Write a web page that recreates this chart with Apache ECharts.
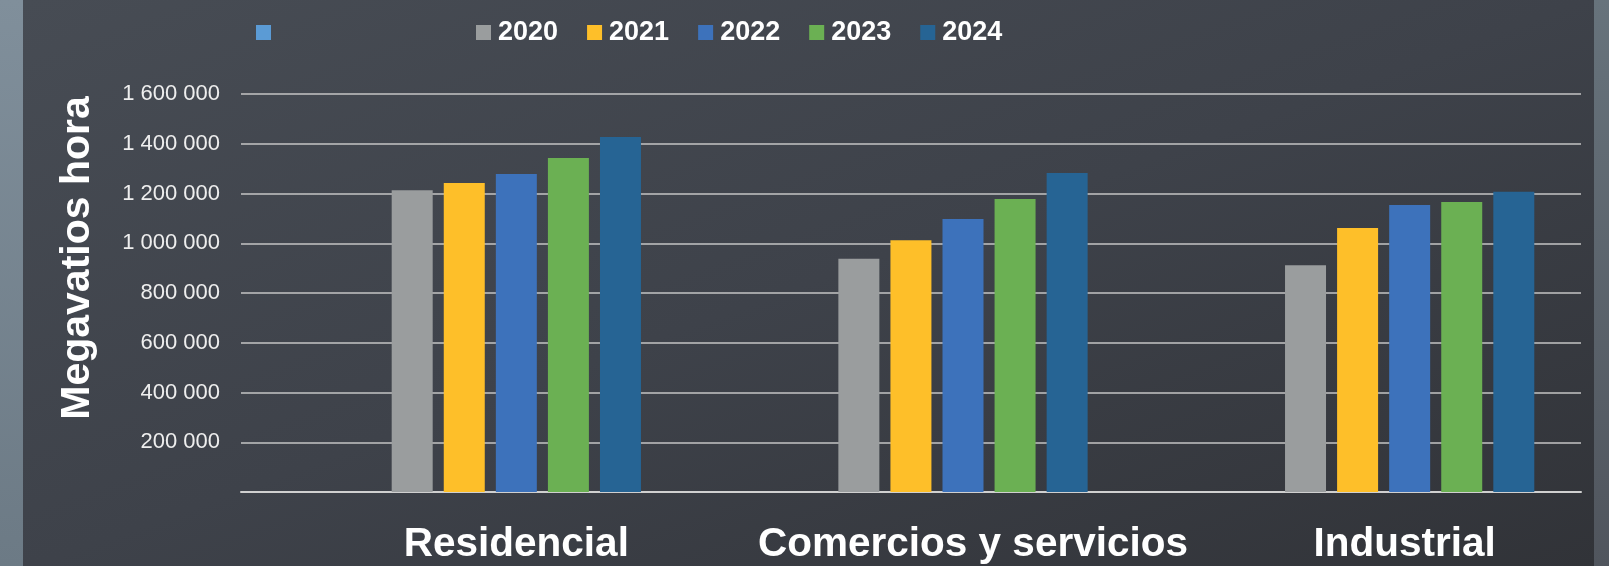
<!DOCTYPE html>
<html>
<head>
<meta charset="utf-8">
<script src="https://cdn.jsdelivr.net/npm/echarts@6/dist/echarts.min.js"></script>
<style>
  html, body { margin: 0; padding: 0; }
  body { width: 1609px; height: 566px; position: relative; overflow: hidden;
    background: linear-gradient(180deg, #808f9b 0%, #6c7a85 100%); }
  #bg { position: absolute; left: 23px; top: 0; width: 1571px; height: 566px;
    background: linear-gradient(160deg, #474c54 0%, #3e424a 50%, #313338 100%); }
  #rstrip { position: absolute; left: 1594px; top: 0; width: 15px; height: 566px;
    background: linear-gradient(180deg, #67737c 0%, #50555d 100%); }
  #chart { position: absolute; left: 0; top: 0; width: 1609px; height: 566px; }
</style>
</head>
<body>
<div id="bg"></div>
<div id="rstrip"></div>
<div id="chart"></div>
<script>
const categories = ['Residencial', 'Comercios y servicios', 'Industrial']
const years = ['2020', '2021', '2022', '2023', '2024']
const yearColors = ['#9a9d9e', '#febf29', '#3d72bb', '#6bb053', '#266494']

// MWh per sector, one array per year
const v2020 = [1213000, 938000, 912000]
const v2021 = [1242000, 1012000, 1061000]
const v2022 = [1278000, 1097000, 1154000]
const v2023 = [1343000, 1178000, 1166000]
const v2024 = [1427000, 1282000, 1207000]
const yearValues = [v2020, v2021, v2022, v2023, v2024]

const yMax = 1600000
const yStep = 200000

const FONT = '"Liberation Sans", Arial, sans-serif'

// labels in the original sit a little off the bar groups
const labelPads = [[0, 0, 0, 0], [0, 0, 0, 20], [0, 10, 0, 0]]

function fmtSpaces(value) {
  if (value === 0) return ''
  return String(value).replace(/\B(?=(\d{3})+(?!\d))/g, ' ')
}

const chart = echarts.init(document.getElementById('chart'), null, { renderer: 'canvas' })

const barSeries = years.map((year, i) => ({
  name: year,
  type: 'bar',
  xAxisIndex: 1,
  yAxisIndex: 1,
  data: yearValues[i],
  barWidth: 41,
  barGap: '27%',
  itemStyle: { color: yearColors[i] }
}))

chart.setOption({
  backgroundColor: 'transparent',
  textStyle: { fontFamily: FONT },
  legend: [
    {
      left: 256,
      top: 19,
      padding: 0,
      icon: 'rect',
      itemWidth: 15,
      itemHeight: 15,
      data: ['\u00a0'],
      textStyle: { color: '#ffffff', fontSize: 27, fontWeight: 'bold', fontFamily: FONT }
    },
    {
      left: 476,
      top: 19,
      padding: 0,
      icon: 'rect',
      itemWidth: 15,
      itemHeight: 15,
      itemGap: 29,
      data: years,
      textStyle: { color: '#ffffff', fontSize: 27, fontWeight: 'bold', fontFamily: FONT, padding: [0, 0, 0, 2] }
    }
  ],
  grid: [
    { left: 241, right: 28, top: 94, bottom: 74, outerBoundsMode: 'none' },
    { left: 293, width: 1340, top: 94, bottom: 74, outerBoundsMode: 'none' }
  ],
  xAxis: [
    {
      type: 'category',
      gridIndex: 0,
      data: categories,
      axisLine: { show: true, lineStyle: { color: '#d0d0d0', width: 2 } },
      axisTick: { show: false },
      axisLabel: { show: false },
      splitLine: { show: false }
    },
    {
      type: 'category',
      gridIndex: 1,
      data: categories.map((c, i) => ({ value: c, textStyle: { padding: labelPads[i] } })),
      axisLine: { show: false },
      axisTick: { show: false },
      axisLabel: {
        color: '#ffffff',
        fontSize: 40.5,
        fontWeight: 'bold',
        fontFamily: FONT,
        margin: 32,
        interval: 0
      }
    }
  ],
  yAxis: [
    {
      type: 'value',
      gridIndex: 0,
      min: 0,
      max: yMax,
      interval: yStep,
      name: 'Megavatios hora',
      nameLocation: 'middle',
      nameRotate: 90,
      nameGap: 143,
      nameTextStyle: {
        color: '#ffffff',
        fontSize: 41,
        fontWeight: 'bold',
        fontFamily: FONT,
        padding: [0, 0, 0, 70]
      },
      axisLine: { show: false },
      axisTick: { show: false },
      axisLabel: {
        color: '#eeeeee',
        fontSize: 22,
        fontFamily: FONT,
        margin: 21,
        formatter: fmtSpaces
      },
      splitLine: { show: true, lineStyle: { color: '#c4c4c4', width: 1.5 } }
    },
    {
      type: 'value',
      gridIndex: 1,
      min: 0,
      max: yMax,
      interval: yStep,
      show: false,
      splitLine: { show: false }
    }
  ],
  series: [
    {
      name: '\u00a0',
      type: 'line',
      xAxisIndex: 1,
      yAxisIndex: 1,
      data: [],
      itemStyle: { color: '#5b9bd5' },
      lineStyle: { color: '#5b9bd5' }
    }
  ].concat(barSeries)
})
</script>
</body>
</html>
